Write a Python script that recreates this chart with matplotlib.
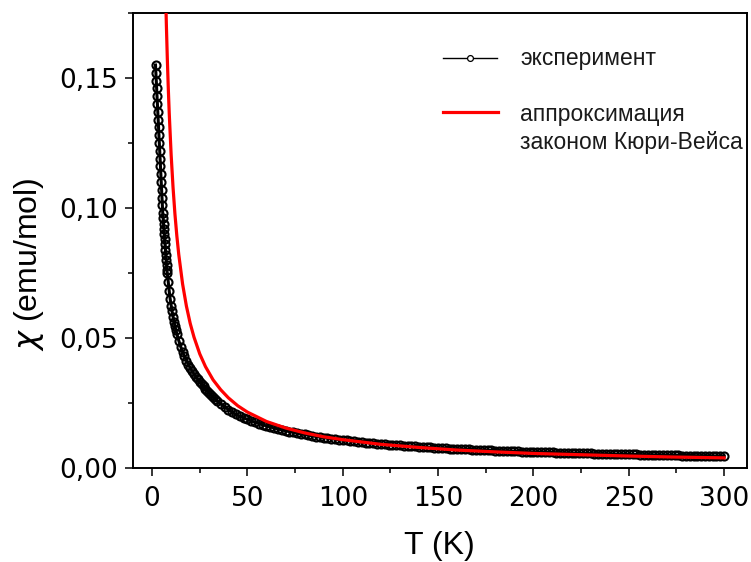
import matplotlib
matplotlib.use("Agg")
import matplotlib.pyplot as plt
from matplotlib.ticker import MultipleLocator, FuncFormatter
from matplotlib.lines import Line2D

# ---------------- data ----------------
T_exp = [1.8, 2.0, 2.2, 2.4, 2.6, 2.8, 3.0, 3.2, 3.4, 3.6, 3.8, 4.0, 4.2, 4.4, 4.6,
         4.8, 5.0, 5.2, 5.4, 5.6, 5.8, 6.0, 6.2, 6.4, 6.6, 6.8, 7.0, 7.2, 7.4, 7.6,
         7.8, 8.0, 8.5, 9.0, 9.5, 10, 10.5, 11, 11.5, 12, 12.5, 13, 14, 15, 16, 17,
         18, 19, 20, 21, 22, 23, 24, 25, 26, 27, 28, 29, 30, 31, 32, 33, 34, 36, 38,
         40, 42, 44, 46, 48, 50, 52, 54, 56, 58, 60, 62, 64, 66, 68, 70, 72, 74, 76,
         78, 80, 82, 84, 86, 88, 90, 92, 94, 96, 98, 100, 102, 104, 106, 108, 110,
         112, 114, 116, 118, 120, 122, 124, 126, 128, 130, 132, 134, 136, 138, 140,
         142, 144, 146, 148, 150, 152, 154, 156, 158, 160, 162, 164, 166, 168, 170,
         172, 174, 176, 178, 180, 182, 184, 186, 188, 190, 192, 194, 196, 198, 200,
         202, 204, 206, 208, 210, 212, 214, 216, 218, 220, 222, 224, 226, 228, 230,
         232, 234, 236, 238, 240, 242, 244, 246, 248, 250, 252, 254, 256, 258, 260,
         262, 264, 266, 268, 270, 272, 274, 276, 278, 280, 282, 284, 286, 288, 290,
         292, 294, 296, 298, 300]
chi_exp = [0.155, 0.152, 0.149, 0.146, 0.143, 0.140, 0.137, 0.134, 0.131, 0.128,
           0.125, 0.122, 0.119, 0.116, 0.113, 0.110, 0.107, 0.104, 0.101, 0.098,
           0.096, 0.094, 0.092, 0.090, 0.088, 0.086, 0.084, 0.082, 0.080, 0.078,
           0.076, 0.075, 0.0715, 0.068, 0.065, 0.0625, 0.0602, 0.0582, 0.0563,
           0.0546, 0.0530, 0.0516, 0.0490, 0.0467, 0.0447, 0.0429, 0.0413, 0.0398,
           0.0385, 0.0373, 0.0362, 0.0351, 0.0341, 0.0332, 0.0323, 0.0314, 0.0304,
           0.0296, 0.0288, 0.0280, 0.0273, 0.0266, 0.0259, 0.0247, 0.0236, 0.0225,
           0.0214, 0.0206, 0.0199, 0.0193, 0.0187, 0.0181, 0.0176, 0.0171, 0.0166,
           0.0162, 0.0158, 0.0154, 0.0150, 0.0147, 0.0143, 0.0140, 0.0137, 0.0134,
           0.0131, 0.0129, 0.0126, 0.0124, 0.0121, 0.0119, 0.0117, 0.0115, 0.0113,
           0.0111, 0.0109, 0.0107, 0.0106, 0.0104, 0.0102, 0.0101, 0.0099, 0.0098,
           0.0097, 0.0095, 0.0094, 0.0093, 0.0091, 0.0090, 0.0089, 0.0088, 0.0087,
           0.0086, 0.0085, 0.0084, 0.0083, 0.0082, 0.0081, 0.0080, 0.0079, 0.0078,
           0.0078, 0.0077, 0.0076, 0.0075, 0.0074, 0.0074, 0.0073, 0.0072, 0.0072,
           0.0071, 0.0070, 0.0070, 0.0069, 0.0068, 0.0068, 0.0067, 0.0067, 0.0066,
           0.0066, 0.0065, 0.0064, 0.0064, 0.0063, 0.0063, 0.0062, 0.0062, 0.0061,
           0.0061, 0.0061, 0.0060, 0.0060, 0.0059, 0.0059, 0.0058, 0.0058, 0.0058,
           0.0057, 0.0057, 0.0056, 0.0056, 0.0056, 0.0055, 0.0055, 0.0055, 0.0054,
           0.0054, 0.0054, 0.0053, 0.0053, 0.0053, 0.0052, 0.0052, 0.0052, 0.0051,
           0.0051, 0.0051, 0.0051, 0.0050, 0.0050, 0.0050, 0.0049, 0.0049, 0.0049,
           0.0049, 0.0048, 0.0048, 0.0048, 0.0048, 0.0047, 0.0047, 0.0047, 0.0047,
           0.0046, 0.0046, 0.0046, 0.0046]

T_fit = [7.2, 7.5, 8, 8.5, 9, 10, 11, 12, 13, 14, 16, 18, 20, 22, 25, 28, 32, 36,
         40, 45, 50, 60, 70, 80, 90, 100, 120, 140, 160, 180, 200, 225, 250, 275, 300]
chi_fit = [0.1794, 0.1705, 0.1574, 0.1462, 0.1365, 0.1205, 0.1079, 0.0976, 0.0892,
           0.0821, 0.0708, 0.0623, 0.0556, 0.0503, 0.0439, 0.0390, 0.0339, 0.0301,
           0.0270, 0.0239, 0.0215, 0.0179, 0.0154, 0.0135, 0.0120, 0.0109, 0.0091,
           0.0079, 0.0069, 0.0062, 0.0056, 0.0051, 0.0046, 0.0042, 0.0039]

x_ticks = [0, 50, 100, 150, 200, 250, 300]
y_ticks = [0.00, 0.05, 0.10, 0.15]
label_exp = "эксперимент"
label_fit_1 = "аппроксимация"
label_fit_2 = "законом Кюри-Вейса"

# ---------------- figure ----------------
plt.rcParams["mathtext.fontset"] = "dejavusans"
W, H = 751, 562
fig = plt.figure(figsize=(W / 100, H / 100), dpi=100)
L, R, TOP, BOT = 133, 747, 13, 468
ax = fig.add_axes([L / W, 1 - BOT / H, (R - L) / W, (BOT - TOP) / H])

ax.plot(T_exp, chi_exp, color="black", lw=2.2, zorder=2)
ax.plot(T_exp, chi_exp, ls="none", marker="o", ms=5.8, mfc="none", mec="black",
        mew=1.5, zorder=3)
ax.plot(T_fit, chi_fit, color="#ff0000", lw=2.3, zorder=4)

ax.set_xlim(-10, 312)
ax.set_ylim(0, 0.175)
ax.set_xticks(x_ticks)
ax.set_yticks(y_ticks)
ax.xaxis.set_minor_locator(MultipleLocator(25))
ax.yaxis.set_minor_locator(MultipleLocator(0.025))
ax.yaxis.set_major_formatter(FuncFormatter(lambda v, p: f"{v:.2f}".replace(".", ",")))
ax.xaxis.set_major_formatter(FuncFormatter(lambda v, p: f"{v:.0f}"))

for s in ax.spines.values():
    s.set_linewidth(1.4)
ax.tick_params(which="both", direction="out", top=False, right=False, width=1.1)
ax.tick_params(which="major", length=6, labelsize=19)
ax.tick_params(axis="x", which="major", pad=7)
ax.tick_params(axis="y", which="major", pad=5)
ax.tick_params(which="minor", length=3.5)
for lab in ax.get_xticklabels() + ax.get_yticklabels():
    lab.set_fontfamily("DejaVu Sans")

ax.set_xlabel("T (K)", fontsize=23, fontfamily="Liberation Sans")
ax.xaxis.set_label_coords((439 - L) / (R - L), (BOT - 531) / (BOT - TOP))
ax.set_ylabel(r"$\chi$ (emu/mol)", fontsize=23, fontfamily="Liberation Sans",
              va="center")
ax.yaxis.set_label_coords((29 - L) / (R - L), (BOT - 264) / (BOT - TOP))

# ---------------- legend (drawn in axes coordinates) ----------------
def axx(px):
    return (px - L) / (R - L)

def axy(py):
    return (BOT - py) / (BOT - TOP)

tr = ax.transAxes
ax.add_line(Line2D([axx(443), axx(497)], [axy(58), axy(58)], transform=tr,
                   color="black", lw=1.0))
ax.add_line(Line2D([axx(470)], [axy(58)], transform=tr, ls="none", marker="o",
                   ms=4.2, mfc="white", mec="black", mew=0.9))
ax.add_line(Line2D([axx(443), axx(498)], [axy(112), axy(112)], transform=tr,
                   color="#ff0000", lw=2.3))
leg_kw = dict(transform=tr, fontsize=16.5, fontfamily="Liberation Sans",
              ha="left", va="baseline", color="#1a1a1a")
ax.text(axx(520), axy(65), label_exp, **leg_kw)
ax.text(axx(520), axy(121.5), label_fit_1, **leg_kw)
ax.text(axx(520), axy(148.5), label_fit_2, **leg_kw)

fig.savefig("out.png", dpi=100)
